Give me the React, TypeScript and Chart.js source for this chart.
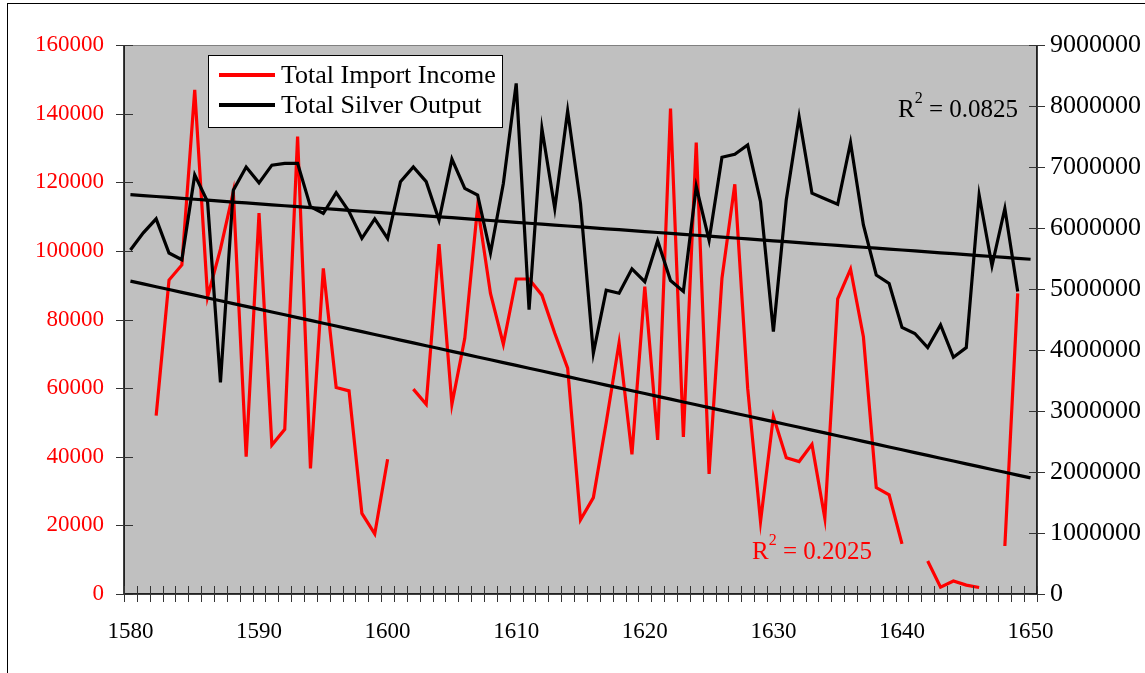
import React, { useEffect, useRef } from 'react';
import { Chart, registerables } from 'chart.js';

Chart.register(...registerables);

const FONT = "'Liberation Serif', 'Times New Roman', serif";

const years = [
  '1580', '1581', '1582', '1583', '1584', '1585', '1586', '1587', '1588', '1589',
  '1590', '1591', '1592', '1593', '1594', '1595', '1596', '1597', '1598', '1599',
  '1600', '1601', '1602', '1603', '1604', '1605', '1606', '1607', '1608', '1609',
  '1610', '1611', '1612', '1613', '1614', '1615', '1616', '1617', '1618', '1619',
  '1620', '1621', '1622', '1623', '1624', '1625', '1626', '1627', '1628', '1629',
  '1630', '1631', '1632', '1633', '1634', '1635', '1636', '1637', '1638', '1639',
  '1640', '1641', '1642', '1643', '1644', '1645', '1646', '1647', '1648', '1649',
  '1650',
];

const xTickLabels = ['1580', '1590', '1600', '1610', '1620', '1630', '1640', '1650'];

// Total Import Income (left axis), 1580..1650
const importIncome: (number | null)[] = [
  null, null, 52000, 91500, 95900, 146900, 86600, 100500, 117200, 40000,
  111000, 43400, 48000, 133300, 36600, 94900, 60200, 59200, 23500, 17500,
  39300, null, 59700, 55300, 102000, 55300, 74500, 112900, 87600, 72800,
  91800, 91800, 87100, 76000, 65800, 21600, 28100, 50000, 73200, 40700,
  89600, 44900, 141500, 45800, 131600, 35000, 92000, 119400, 60000, 21100,
  51700, 39700, 38600, 43600, 22100, 86000, 94700, 75000, 31000, 28900,
  14600, null, 9600, 2000, 3800, 2600, 1900, null, 14000, 87600,
  null,
];

// Total Silver Output (right axis), 1580..1650
const silverOutput: (number | null)[] = [
  5640000, 5920000, 6150000, 5590000, 5480000, 6870000, 6430000, 3470000, 6620000, 7000000,
  6740000, 7030000, 7060000, 7060000, 6350000, 6240000, 6580000, 6270000, 5830000, 6150000,
  5830000, 6760000, 7000000, 6760000, 6130000, 7130000, 6650000, 6540000, 5590000, 6730000,
  8370000, 4660000, 7630000, 6320000, 7920000, 6400000, 3950000, 4980000, 4930000, 5330000,
  5120000, 5790000, 5140000, 4960000, 6680000, 5800000, 7160000, 7210000, 7360000, 6430000,
  4300000, 6460000, 7820000, 6570000, 6480000, 6390000, 7400000, 6050000, 5230000, 5090000,
  4370000, 4270000, 4040000, 4410000, 3880000, 4040000, 6540000, 5380000, 6320000, 4960000,
  null,
];

const leftAxis = { min: 0, max: 160000, step: 20000 };
const rightAxis = { min: 0, max: 9000000, step: 1000000 };

const r2Import = '0.2025';
const r2Silver = '0.0825';

function linearTrend(values: (number | null)[]): number[] {
  let n = 0, sx = 0, sy = 0, sxx = 0, sxy = 0;
  values.forEach((v, i) => {
    if (v === null) return;
    n++; sx += i; sy += v; sxx += i * i; sxy += i * v;
  });
  const b = (n * sxy - sx * sy) / (n * sxx - sx * sx);
  const a = (sy - b * sx) / n;
  return values.map((_, i) => a + b * i);
}

const decorPlugin = {
  id: 'decor',
  beforeDraw(chart: any) {
    const { ctx, chartArea: a } = chart;
    ctx.save();
    ctx.fillStyle = '#c0c0c0';
    ctx.fillRect(a.left, a.top, a.right - a.left, a.bottom - a.top);
    ctx.strokeStyle = '#808080';
    ctx.lineWidth = 1;
    ctx.strokeRect(a.left + 0.5, a.top + 0.5, a.right - a.left - 1, a.bottom - a.top - 1);
    ctx.restore();
  },
  afterDraw(chart: any) {
    const { ctx, chartArea: a, scales } = chart;
    const xs = scales.x, yl = scales.y, yr = scales.y1;
    ctx.save();
    // axis lines
    ctx.strokeStyle = '#000';
    ctx.lineWidth = 1.5;
    ctx.beginPath();
    ctx.moveTo(a.left, a.top); ctx.lineTo(a.left, a.bottom);
    ctx.moveTo(a.right, a.top); ctx.lineTo(a.right, a.bottom);
    ctx.moveTo(a.left, a.bottom); ctx.lineTo(a.right, a.bottom);
    ctx.stroke();
    // tick marks (cross)
    ctx.strokeStyle = '#333';
    ctx.lineWidth = 1;
    ctx.beginPath();
    for (let i = 0; i <= years.length; i++) {
      const px = Math.round(xs.getPixelForValue(i - 0.5)) + 0.5;
      ctx.moveTo(px, a.bottom - 8); ctx.lineTo(px, a.bottom + 8);
    }
    yl.ticks.forEach((t: any) => {
      const py = Math.round(yl.getPixelForValue(t.value)) + 0.5;
      ctx.moveTo(a.left - 8, py); ctx.lineTo(a.left + 9, py);
    });
    yr.ticks.forEach((t: any) => {
      const py = Math.round(yr.getPixelForValue(t.value)) + 0.5;
      ctx.moveTo(a.right - 8, py); ctx.lineTo(a.right + 8, py);
    });
    ctx.stroke();

    // legend
    const lx = 208, ly = 55, lw = 294, lh = 72;
    ctx.fillStyle = '#fff';
    ctx.fillRect(lx, ly, lw, lh);
    ctx.strokeStyle = '#000';
    ctx.lineWidth = 1;
    ctx.strokeRect(lx + 0.5, ly + 0.5, lw, lh);
    const ds = chart.data.datasets;
    [0, 1].forEach((k) => {
      const y = 75 + k * 30;
      ctx.strokeStyle = ds[k].borderColor;
      ctx.lineWidth = 4;
      ctx.beginPath();
      ctx.moveTo(219, y); ctx.lineTo(275, y);
      ctx.stroke();
      ctx.fillStyle = '#000';
      ctx.font = `26px ${FONT}`;
      ctx.textBaseline = 'middle';
      ctx.textAlign = 'left';
      ctx.fillText(ds[k].label, 281, y + 1);
    });

    // R^2 labels
    const drawR2 = (x: number, y: number, val: string, color: string) => {
      ctx.fillStyle = color;
      ctx.textBaseline = 'alphabetic';
      ctx.textAlign = 'left';
      ctx.font = `25px ${FONT}`;
      ctx.fillText('R', x, y);
      const w = ctx.measureText('R').width;
      ctx.font = `16px ${FONT}`;
      ctx.fillText('2', x + w, y - 14);
      const w2 = ctx.measureText('2').width;
      ctx.font = `25px ${FONT}`;
      ctx.fillText(' = ' + val, x + w + w2, y);
    };
    drawR2(898, 117, r2Silver, '#000');
    drawR2(752, 559, r2Import, '#ff0000');
    ctx.restore();
  },
};

export default function App() {
  const ref = useRef<HTMLCanvasElement>(null);
  useEffect(() => {
    if (!ref.current) return;
    const chart = new Chart(ref.current, {
      type: 'line',
      data: {
        labels: years,
        datasets: [
          {
            label: 'Total Import Income',
            data: importIncome,
            borderColor: '#ff0000',
            borderWidth: 3.2,
            yAxisID: 'y',
            spanGaps: false,
            pointRadius: 0,
            order: 3,
          },
          {
            label: 'Total Silver Output',
            data: silverOutput,
            borderColor: '#000000',
            borderWidth: 3.2,
            yAxisID: 'y1',
            spanGaps: false,
            pointRadius: 0,
            order: 2,
          },
          {
            label: 'Import trend',
            data: linearTrend(importIncome),
            borderColor: '#000000',
            borderWidth: 3.2,
            yAxisID: 'y',
            pointRadius: 0,
            order: 1,
          },
          {
            label: 'Silver trend',
            data: linearTrend(silverOutput),
            borderColor: '#000000',
            borderWidth: 3.2,
            yAxisID: 'y1',
            pointRadius: 0,
            order: 0,
          },
        ],
      },
      options: {
        responsive: false,
        maintainAspectRatio: false,
        animation: false,
        devicePixelRatio: 1,
        layout: { padding: { top: 45, left: 0, right: 0, bottom: 0 } },
        plugins: { legend: { display: false }, tooltip: { enabled: false } },
        elements: { line: { tension: 0 }, point: { radius: 0 } },
        scales: {
          x: {
            type: 'category',
            offset: true,
            grid: { display: false, drawTicks: false },
            border: { display: false },
            ticks: {
              autoSkip: false,
              maxRotation: 0,
              minRotation: 0,
              padding: 24,
              color: '#000',
              font: { family: FONT, size: 23 },
              callback: (_v: any, i: number) => (xTickLabels.includes(years[i]) ? years[i] : ''),
            },
            afterFit: (s: any) => { s.height = 79; },
          },
          y: {
            type: 'linear',
            position: 'left',
            min: leftAxis.min,
            max: leftAxis.max,
            grid: { display: false, drawTicks: false },
            border: { display: false },
            ticks: {
              stepSize: leftAxis.step,
              padding: 20,
              color: '#ff0000',
              font: { family: FONT, size: 23 },
              callback: (v: any) => String(v),
            },
            afterFit: (s: any) => { s.width = 124; },
          },
          y1: {
            type: 'linear',
            position: 'right',
            min: rightAxis.min,
            max: rightAxis.max,
            grid: { display: false, drawTicks: false },
            border: { display: false },
            ticks: {
              stepSize: rightAxis.step,
              padding: 13,
              color: '#000',
              font: { family: FONT, size: 26 },
              callback: (v: any) => String(v),
            },
            afterFit: (s: any) => { s.width = 108; },
          },
        },
      } as any,
      plugins: [decorPlugin],
    });
    return () => chart.destroy();
  }, []);

  return (
    <div style={{ position: 'fixed', left: 0, top: 0, width: 1145, height: 673, background: '#fff', overflow: 'hidden' }}>
      <canvas ref={ref} width={1145} height={673} style={{ position: 'absolute', left: 0, top: 0, width: 1145, height: 673 }} />
      <div style={{ position: 'absolute', left: 7, top: 3, width: 1160, height: 720, border: '1px solid #000', pointerEvents: 'none' }} />
    </div>
  );
}
